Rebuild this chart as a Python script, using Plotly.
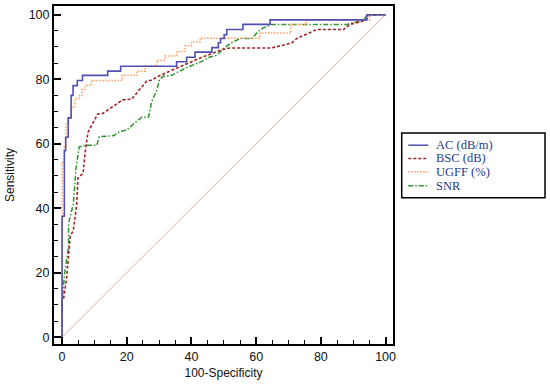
import plotly.graph_objects as go

# ---- data (100-Specificity, Sensitivity) ----
ac_x = [0, 0, 0.7, 1.1, 1.9, 2.8, 3.4, 4.7, 6.3, 14.1, 18.1, 35.4, 38.5, 41.1, 46.3, 48.3, 49.0, 50.1, 50.9, 55.9, 64.3, 94.2, 100]
ac_y = [0, 37.5, 57.8, 62.0, 68.0, 75.0, 78.0, 79.6, 81.2, 82.5, 84.0, 85.4, 86.8, 88.4, 89.8, 91.3, 92.6, 93.8, 95.4, 97.0, 98.4, 100, 100]

bsc_x = [0, 0, 0.4, 1.45, 2.5, 3.5, 4.5, 4.9, 6.5, 7.1, 8.0, 11.0, 12.6, 18.7, 21.5, 26.2, 27.7, 29.3, 34.4, 42.7, 49.6, 51.9, 64.8, 71.0, 72.5, 78.7, 87.0, 89.0, 93.7, 95.2, 100]
bsc_y = [0, 11.5, 11.5, 18.8, 31.2, 33.2, 41.0, 49.4, 50.8, 57.0, 63.5, 69.2, 69.4, 73.6, 73.8, 79.5, 79.7, 80.7, 83.0, 86.6, 89.2, 89.7, 89.7, 91.2, 92.6, 95.4, 95.4, 97.0, 98.2, 99.8, 100]

ugff_x = [0, 0, 0.7, 1.2, 1.8, 2.7, 4.0, 5.4, 6.1, 7.1, 9.2, 18.6, 23.1, 25.7, 29.3, 31.8, 35.5, 38.0, 40.0, 42.7, 61.2, 70.7, 75.6, 95.0, 100]
ugff_y = [0, 54.0, 59.3, 66.0, 68.0, 71.2, 74.0, 75.0, 76.8, 78.1, 79.6, 81.2, 82.5, 84.1, 85.8, 87.2, 88.6, 90.4, 91.5, 92.7, 94.3, 97.0, 98.3, 100, 100]

snr_x = [0, 0, 0.9, 2.0, 2.0, 3.5, 4.3, 5.3, 7.1, 10.7, 11.5, 15.9, 17.9, 20.0, 21.0, 24.6, 26.7, 27.7, 29.3, 30.1, 31.3, 33.9, 38.5, 42.7, 45.7, 47.8, 49.9, 52.3, 55.0, 58.6, 61.2, 64.6, 88.0, 93.1, 94.2, 100]
snr_y = [0, 11.6, 20.8, 28.0, 35.3, 41.5, 52.3, 59.0, 59.5, 59.5, 62.2, 62.5, 63.8, 64.2, 65.2, 68.2, 68.2, 73.0, 76.6, 79.9, 80.9, 81.2, 83.6, 85.3, 86.9, 87.4, 89.5, 91.3, 92.6, 92.6, 95.4, 97.0, 97.0, 98.2, 99.8, 100]

ref_x = [0, 100]
ref_y = [0, 100]

series_names = ["AC (dB/m)", "BSC (dB)", "UGFF (%)", "SNR"]
tick_vals = [0, 20, 40, 60, 80, 100]

# ---- styles ----
C_AC, C_BSC, C_UGFF, C_SNR = "#5050b4", "#a02424", "#ffa060", "#2e962e"
D_BSC, D_UGFF, D_SNR = "3px,2px", "1.5px,1.5px", "5px,2px,1.5px,2px"
SANS = "Liberation Sans, Arial, sans-serif"
SERIF = "Liberation Serif, Times New Roman, serif"

fig = go.Figure()
fig.add_trace(go.Scatter(x=ref_x, y=ref_y, mode="lines", line=dict(color="#e8a8a8", width=1), showlegend=False))
fig.add_trace(go.Scatter(x=snr_x, y=snr_y, mode="lines", line=dict(color=C_SNR, width=1.5, dash=D_SNR), showlegend=False))
fig.add_trace(go.Scatter(x=bsc_x, y=bsc_y, mode="lines", line=dict(color=C_BSC, width=1.6, dash=D_BSC), showlegend=False))
fig.add_trace(go.Scatter(x=ugff_x, y=ugff_y, mode="lines", line=dict(color=C_UGFF, width=1.5, dash=D_UGFF, shape="hv"), showlegend=False))
fig.add_trace(go.Scatter(x=ac_x, y=ac_y, mode="lines", line=dict(color=C_AC, width=1.6, shape="hv"), showlegend=False))

axis_common = dict(
    tickvals=tick_vals, ticks="inside", ticklen=7, tickwidth=2, tickcolor="black",
    showline=True, linewidth=2, linecolor="black", mirror=True,
    showgrid=False, zeroline=False,
    tickfont=dict(family=SANS, size=12.5, color="#111"),
    minor=dict(dtick=5, ticks="inside", ticklen=4, tickwidth=1, tickcolor="black", showgrid=False),
    automargin=False,
)
fig.update_xaxes(range=[-2.5, 102.3], title=dict(text="100-Specificity", font=dict(family=SANS, size=12, color="#111"), standoff=6), **axis_common)
fig.update_yaxes(range=[-2.1, 102.7], title=dict(text="Sensitivity", font=dict(family=SANS, size=12, color="#111"), standoff=11), **axis_common)

# ---- legend box (manual, to match compact spacing) ----
shapes = [dict(type="rect", xref="paper", yref="paper", x0=1.0257, x1=1.4484, y0=0.4325, y1=0.6246,
               line=dict(color="black", width=1.5), fillcolor="white")]
row_y = [0.5882, 0.5489, 0.5093, 0.4679]
styles = [(C_AC, "solid"), (C_BSC, D_BSC), (C_UGFF, D_UGFF), (C_SNR, D_SNR)]
annotations = []
for name, ry, (col, dsh) in zip(series_names, row_y, styles):
    shapes.append(dict(type="line", xref="paper", yref="paper", x0=1.0451, x1=1.1041, y0=ry, y1=ry,
                       line=dict(color=col, width=1.5, dash=dsh)))
    annotations.append(dict(xref="paper", yref="paper", x=1.1209, y=ry, xanchor="left", yanchor="middle",
                            text=name, showarrow=False, font=dict(family=SERIF, size=12.5, color="#1f3b87")))

fig.update_layout(
    width=550, height=386,
    margin=dict(l=54, r=157, t=6, b=42),
    paper_bgcolor="white", plot_bgcolor="white",
    shapes=shapes, annotations=annotations,
    showlegend=False,
)
fig.write_html("out.html", config={"displayModeBar": False},
               post_script="document.body.style.margin='0';document.body.style.padding='0';")
